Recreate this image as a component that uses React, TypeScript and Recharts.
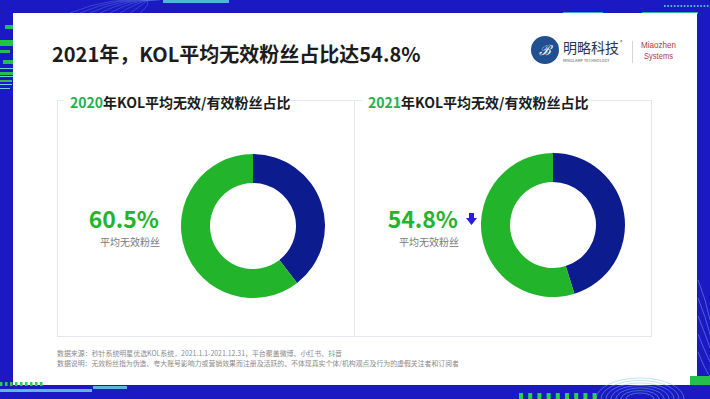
import { Pie, PieChart, Cell } from "recharts";

const years = ["2020", "2021"];
const segments = ["有效粉丝", "无效粉丝"];
const validShare = [39.5, 45.2];
const invalidShare = [60.5, 54.8];
const segmentColors = ["#0c1c8e", "#22b52b"];

const pageTitle = "2021年，KOL平均无效粉丝占比达54.8%";
const panelSuffix = "年KOL平均无效/有效粉丝占比";
const valueCaption = "平均无效粉丝";
const footerLines = [
  "数据来源：秒针系统明星优选KOL系统，2021.1.1-2021.12.31，平台覆盖微博、小红书、抖音",
  "数据说明：无效粉丝指为伪造、夸大账号影响力或营销效果而注册及活跃的、不体现真实个体/机构观点及行为的虚假关注者和订阅者",
];
const footerWidths = [285, 402];

const FONT = '"Noto Sans CJK SC", "Noto Sans", sans-serif';
const W = 710;
const H = 399;

// donut geometry, one per year
const donutCenters = [
  { cx: 253, cy: 226 },
  { cx: 553, cy: 225 },
];
const panelX = [57, 355];
const labelRight = [159, 458];

function Background() {
  const greenBlocks = [
    [13, 15, 20, 11], [5, 25, 15, 4], [20, 31, 8, 4], [0, 40, 14, 6],
    [0, 50, 10, 3], [3, 60, 12, 4], [0, 72, 16, 3], [0, 80, 12, 2],
  ];
  const cyanLines = [
    [0, 68, 14, 1], [0, 76, 16, 1], [0, 84, 12, 1], [0, 88, 10, 1],
  ];
  return (
    <svg width={W} height={H} style={{ position: "absolute", left: 0, top: 0 }}>
      <rect x={0} y={0} width={W} height={H} fill="#1a19c4" />
      {/* swirl top left */}
      {[0, 1, 2, 3, 4, 5, 6, 7].map((i) => (
        <path
          key={i}
          d={`M ${70 + i * 10} 13 Q ${110 + i * 6} ${-4 + i} ${160 - i * 2} 0`}
          stroke="#5a78e0"
          strokeOpacity={0.6}
          fill="none"
          strokeWidth={0.8}
        />
      ))}
      <rect x={163} y={0} width={66} height={3} fill="#4fb5d8" />
      {/* top right */}
      {Array.from({ length: 14 }).map((_, i) => (
        <rect key={i} x={664 + i * 3.3} y={5} width={1.6} height={2} fill="#46c4c8" />
      ))}
      <rect x={563} y={12} width={40} height={2} fill="#3fa0c8" />
      <rect x={642} y={12} width={56} height={2} fill="#2fb59a" />
      {greenBlocks.map(([x, y, w, h], i) => (
        <rect key={i} x={x} y={y} width={w} height={h} fill="#25c04a" />
      ))}
      {cyanLines.map(([x, y, w, h], i) => (
        <rect key={i} x={x} y={y} width={w} height={h} fill="#6fd1e0" />
      ))}
      {/* white card */}
      <rect x={13} y={13} width={684} height={372} fill="#ffffff" />
      {/* bottom left */}
      {Array.from({ length: 9 }).map((_, i) => (
        <rect key={i} x={i * 5} y={382} width={2.5} height={4} fill="#2bd04a" />
      ))}
      <rect x={0} y={389} width={92} height={3} fill="#5ab8d8" />
      <rect x={93} y={386} width={34} height={3} fill="#5ab8d8" />
      {/* bottom right */}
      {Array.from({ length: 9 }).map((_, i) => (
        <rect key={i} x={519 + i * 9.2} y={393} width={4} height={6} fill="#2bd04a" />
      ))}
      {[0, 1, 2, 3, 4, 5, 6].map((i) => (
        <ellipse
          key={i}
          cx={640}
          cy={399}
          rx={14 + i * 5}
          ry={6 + i * 2.5}
          fill="none"
          stroke="#7fc0e0"
          strokeOpacity={0.6}
          strokeWidth={0.8}
        />
      ))}
      <rect x={690} y={376} width={20} height={9} fill="#25c04a" />
      {[0, 1, 2, 3, 4].map((i) => (
        <path
          key={i}
          d={`M 698 ${280 + i * 18} Q 706 ${300 + i * 18} 710 ${320 + i * 14}`}
          stroke="#8aa8f0"
          strokeOpacity={0.6}
          fill="none"
          strokeWidth={0.8}
        />
      ))}
    </svg>
  );
}

function Overlay() {
  return (
    <svg
      width={W}
      height={H}
      style={{ position: "absolute", left: 0, top: 0, pointerEvents: "none" }}
      fontFamily={FONT}
    >
      <text x={52} y={62} fontSize={20} fontWeight={700} fill="#1c1c1c">
        {pageTitle}
      </text>

      {/* logos */}
      <circle cx={545} cy={50} r={14} fill="#20508f" />
      <text x={545} y={55} fontSize={14} fontStyle="italic" fill="#ffffff" textAnchor="middle" fontFamily="DejaVu Serif">
        ℬ
      </text>
      <text x={563} y={53} fontSize={14} fill="#2b3450">
        明略科技
      </text>
      <text x={620} y={44} fontSize={5} fill="#555">
        ®
      </text>
      <text x={563} y={62} fontSize={3.6} fill="#444" letterSpacing={0.2}>
        MINGLAMP TECHNOLOGY
      </text>
      <line x1={632.5} y1={41} x2={632.5} y2={63} stroke="#d6d6d6" />
      <text x={641} y={48} fontSize={9.5} fill="#b23a3f" fontFamily="Liberation Sans Narrow, Liberation Sans" textLength={35} lengthAdjust="spacingAndGlyphs">
        Miaozhen
      </text>
      <text x={644} y={59} fontSize={9.5} fill="#b23a3f" fontFamily="Liberation Sans Narrow, Liberation Sans" textLength={29} lengthAdjust="spacingAndGlyphs">
        Systems
      </text>

      {/* panels */}
      <rect x={57.5} y={100.5} width={594} height={236} fill="none" stroke="#e3e7ee" />
      <line x1={354.5} y1={100} x2={354.5} y2={337} stroke="#e3e7ee" />
      {years.map((y, i) => (
        <g key={y}>
          <rect x={panelX[i] + 7} y={92} width={226} height={18} fill="#ffffff" />
          <text x={panelX[i] + 13} y={108} fontSize={14} fontWeight={700} fill="#1c1c1c">
            <tspan fill="#22b14c">{y}</tspan>
            {panelSuffix}
          </text>
          <text
            x={labelRight[i]}
            y={228}
            fontSize={23}
            fontWeight={700}
            fill="#22b52b"
            textAnchor="end"
          >
            {invalidShare[i]}%
          </text>
          <text x={labelRight[i] + 1} y={246} fontSize={10} fill="#7a7a7a" textAnchor="end">
            {valueCaption}
          </text>
        </g>
      ))}
      {/* decline arrow */}
      <path d="M 469 213 L 474 213 L 474 218 L 477 218 L 471.5 225 L 466 218 L 469 218 Z" fill="#2a1fd0" />

      {footerLines.map((t, i) => (
        <text
          key={i}
          x={57}
          y={356 + i * 10}
          fontSize={7}
          fill="#8a8a8a"
          textLength={footerWidths[i]}
          lengthAdjust="spacingAndGlyphs"
        >
          {t}
        </text>
      ))}
    </svg>
  );
}

export default function App() {
  return (
    <div style={{ position: "absolute", left: 0, top: 0, width: W, height: H, overflow: "hidden" }}>
      <Background />
      <div style={{ position: "absolute", left: 0, top: 0 }}>
        <PieChart width={W} height={H} margin={{ top: 0, right: 0, bottom: 0, left: 0 }}>
          {years.map((y, i) => {
            const data = [
              { name: segments[0], value: validShare[i] },
              { name: segments[1], value: invalidShare[i] },
            ];
            return (
              <Pie
                key={y}
                data={data}
                dataKey="value"
                nameKey="name"
                cx={donutCenters[i].cx}
                cy={donutCenters[i].cy}
                innerRadius={43}
                outerRadius={72}
                startAngle={90}
                endAngle={-270}
                stroke="none"
                isAnimationActive={false}
              >
                {data.map((d, j) => (
                  <Cell key={d.name} fill={segmentColors[j]} />
                ))}
              </Pie>
            );
          })}
        </PieChart>
      </div>
      <Overlay />
    </div>
  );
}
